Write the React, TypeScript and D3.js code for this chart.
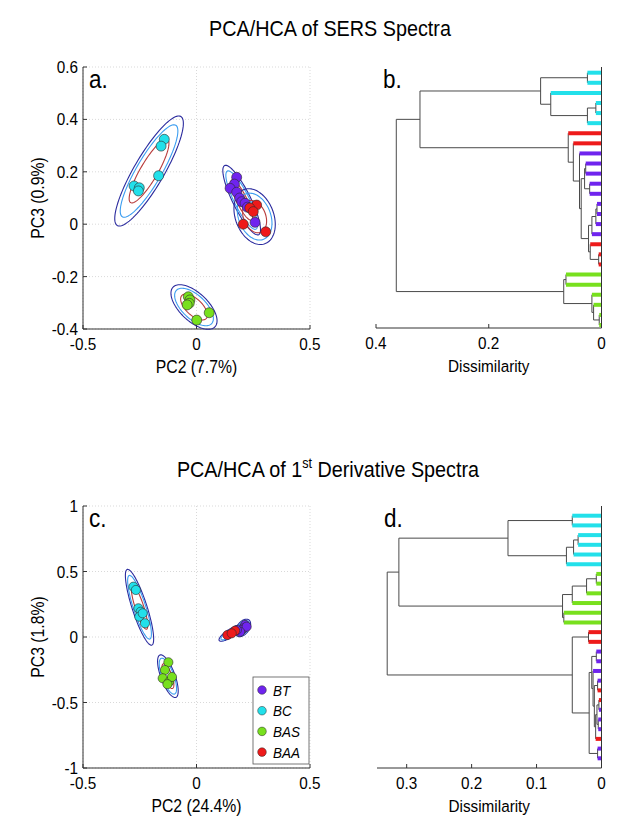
import React from 'react';
import * as d3 from 'd3';

const FONT = "'Liberation Sans', Arial, Helvetica, sans-serif";
const SX = 0.9;

const CLASS_NAMES = ['BT', 'BC', 'BAS', 'BAA'];
const CLASS_COLORS = ['#6f24ee', '#22e0ea', '#78e01e', '#ee1a1a'];
const ELLIPSE_SCALES = [1, 0.84, 0.58];
const ELLIPSE_COLORS = ['#2b2b9e', '#3b9df0', '#b83c3c'];

// ---------- Panel a: PCA of SERS spectra ----------
const sersBT = [[0.177, 0.179], [0.167, 0.153], [0.148, 0.137], [0.177, 0.122], [0.19, 0.1], [0.199, 0.086], [0.214, 0.08], [0.224, 0.065], [0.258, 0.007]];
const sersBC = [[-0.142, 0.324], [-0.156, 0.298], [-0.167, 0.185], [-0.275, 0.146], [-0.252, 0.139], [-0.256, 0.127]];
const sersBAS = [[-0.036, -0.277], [-0.029, -0.289], [-0.032, -0.302], [-0.041, -0.308], [0.056, -0.338], [0.001, -0.366]];
const sersBAA = [[0.265, 0.073], [0.235, 0.062], [0.25, 0.048], [0.206, 0.0], [0.305, -0.029]];
// ellipse: class, center, semi-axis u, semi-axis v (data units)
const sersEllipses = [
  { cls: 1, c: [-0.209, 0.203], u: [0.14, 0.208], v: [0.057, -0.029] },
  { cls: 0, c: [0.199, 0.092], u: [0.075, -0.132], v: [0.0356, 0.0152] },
  { cls: 3, c: [0.256, 0.029], u: [0.047, -0.103], v: [0.078, 0.027] },
  { cls: 2, c: [-0.011, -0.316], u: [0.092, -0.076], v: [0.043, 0.0385] },
];
const aXTicks = [-0.5, 0, 0.5];
const aYTicks = [-0.4, -0.2, 0, 0.2, 0.4, 0.6];

// ---------- Panel c: PCA of 1st derivative spectra ----------
const derBT = [[0.214, 0.092], [0.206, 0.066], [0.199, 0.053], [0.221, 0.079], [0.192, 0.04], [0.178, 0.053]];
const derBC = [[-0.278, 0.384], [-0.267, 0.359], [-0.256, 0.219], [-0.246, 0.193], [-0.252, 0.155], [-0.237, 0.181], [-0.227, 0.105]];
const derBAS = [[-0.124, -0.193], [-0.139, -0.252], [-0.149, -0.315], [-0.12, -0.341], [-0.108, -0.305], [-0.128, -0.36]];
const derBAA = [[0.136, 0.015], [0.17, 0.048], [0.155, 0.028]];
const derEllipses = [
  { cls: 1, c: [-0.251, 0.227], u: [0.054, -0.289], v: [0.031, 0.0176] },
  { cls: 2, c: [-0.126, -0.299], u: [0.035, -0.162], v: [0.029, 0.0187] },
  { cls: 3, c: [0.152, 0.031], u: [0.052, 0.058], v: [0.0095, -0.0256] },
  { cls: 0, c: [0.205, 0.069], u: [0.026, 0.061], v: [0.021, -0.0275] },
];
const cXTicks = [-0.5, 0, 0.5];
const cYTicks = [-1, -0.5, 0, 0.5, 1];

// ---------- Panel b: HCA of SERS spectra (leaf classes top to bottom) ----------
const sersLeafClasses = [1, 1, 1, 1, 1, 1, 3, 3, 0, 0, 0, 0, 0, 0, 0, 0, 0, 3, 3, 3, 2, 2, 2, 2, 2, 2];
// linkage rows: [childA, childB, height]; leaves 0..25, node k = 26 + row
const sersLinkage = [
  [3, 4, 0.01], [26, 5, 0.025], [0, 1, 0.025], [2, 27, 0.09], [28, 29, 0.108],
  [9, 10, 0.028], [11, 12, 0.021], [31, 32, 0.03],
  [13, 14, 0.008], [34, 15, 0.01], [35, 16, 0.017],
  [18, 19, 0.005], [17, 37, 0.02], [36, 38, 0.023], [33, 39, 0.036],
  [8, 40, 0.039], [7, 41, 0.05], [6, 42, 0.059], [30, 43, 0.322],
  [20, 21, 0.063], [24, 25, 0.004], [23, 46, 0.014], [22, 47, 0.017], [45, 48, 0.067],
  [44, 49, 0.364],
];
const bTicks = [0, 0.2, 0.4];

// ---------- Panel d: HCA of 1st derivative spectra ----------
const derLeafClasses = [1, 1, 1, 1, 1, 1, 2, 2, 2, 2, 2, 2, 3, 3, 0, 0, 0, 0, 3, 3, 0, 0, 0, 3, 0, 0];
const derLinkage = [
  [0, 1, 0.045], [2, 3, 0.036], [27, 4, 0.043], [28, 5, 0.054], [26, 29, 0.144],
  [6, 7, 0.008], [31, 8, 0.023], [32, 9, 0.045], [10, 11, 0.058], [33, 34, 0.06],
  [30, 35, 0.312],
  [12, 13, 0.02], [14, 15, 0.008], [17, 18, 0.006], [19, 20, 0.004], [21, 22, 0.005],
  [40, 41, 0.007], [42, 23, 0.009], [39, 43, 0.011], [16, 44, 0.013], [38, 45, 0.015],
  [24, 25, 0.006], [46, 47, 0.019], [37, 48, 0.045],
  [36, 49, 0.33],
];
const dTicks = [0, 0.1, 0.2, 0.3];

const fmt = (v: number) => String(v);

function Txt({ x, y, size, anchor = 'middle', rotate = 0, italic = false, children }: any) {
  return (
    <text
      transform={`translate(${x},${y}) rotate(${rotate}) scale(${SX},1)`}
      fontSize={size}
      fontFamily={FONT}
      textAnchor={anchor}
      fontStyle={italic ? 'italic' : 'normal'}
      fill="#000"
    >
      {children}
    </text>
  );
}

function ellipsePath(e: any, s: number, xs: any, ys: any) {
  const ts = d3.range(0, 101).map((i) => (i / 100) * Math.PI * 2);
  const line = d3
    .line<number>()
    .x((t) => xs(e.c[0] + s * (e.u[0] * Math.cos(t) + e.v[0] * Math.sin(t))))
    .y((t) => ys(e.c[1] + s * (e.u[1] * Math.cos(t) + e.v[1] * Math.sin(t))))
    .curve(d3.curveLinearClosed);
  return line(ts) || '';
}

function Scatter({ xs, ys, xTicks, yTicks, groups, ellipses, xLabel, yLabel, letter, legend, r }: any) {
  const [x0, x1] = xs.range();
  const [y0, y1] = ys.range(); // y0 bottom, y1 top
  const grid = '#cfcfcf';
  return (
    <g>
      {xTicks.map((t: number) => (
        <line key={'gx' + t} x1={xs(t)} x2={xs(t)} y1={y0} y2={y1} stroke={grid} strokeWidth={0.8} strokeDasharray="1,2" />
      ))}
      {yTicks.map((t: number) => (
        <line key={'gy' + t} x1={x0} x2={x1} y1={ys(t)} y2={ys(t)} stroke={grid} strokeWidth={0.8} strokeDasharray="1,2" />
      ))}
      <line x1={x0} x2={x0} y1={y0} y2={y1} stroke="#333" strokeWidth={1} />
      <line x1={x0} x2={x1} y1={y0} y2={y0} stroke="#333" strokeWidth={1} />
      {xTicks.map((t: number) => (
        <g key={'tx' + t}>
          <line x1={xs(t)} x2={xs(t)} y1={y0} y2={y0 - 4} stroke="#333" />
          <Txt x={xs(t)} y={y0 + 21} size={17}>{fmt(t)}</Txt>
        </g>
      ))}
      {yTicks.map((t: number) => (
        <g key={'ty' + t}>
          <line x1={x0} x2={x0 + 4} y1={ys(t)} y2={ys(t)} stroke="#333" />
          <Txt x={x0 - 5} y={ys(t) + 6} size={17} anchor="end">{fmt(t)}</Txt>
        </g>
      ))}
      {ellipses.map((e: any, i: number) =>
        ELLIPSE_SCALES.map((s, j) => (
          <path key={'e' + i + '-' + j} d={ellipsePath(e, s, xs, ys)} fill="none" stroke={ELLIPSE_COLORS[j]} strokeWidth={1.1} />
        ))
      )}
      {groups.map((pts: number[][], gi: number) =>
        pts.map((p, pi) => (
          <circle key={'p' + gi + '-' + pi} cx={xs(p[0])} cy={ys(p[1])} r={r} fill={CLASS_COLORS[gi]} stroke="#2a2a2a" strokeWidth={0.6} />
        ))
      )}
      <Txt x={x0 + 6} y={y1 + 21} size={25} anchor="start">{letter}</Txt>
      <Txt x={(x0 + x1) / 2} y={y0 + 44} size={17.5}>{xLabel}</Txt>
      <Txt x={44} y={(y0 + y1) / 2} size={17.5} rotate={-90}>{yLabel}</Txt>
      {legend && (
        <g>
          <rect x={legend.x} y={legend.y} width={legend.w} height={legend.h} fill="#fff" stroke="#555" strokeWidth={0.8} />
          {CLASS_NAMES.map((n, i) => (
            <g key={n}>
              <circle cx={legend.x + 9} cy={legend.y + 13 + i * 20.7} r={4.3} fill={CLASS_COLORS[i]} stroke="#2a2a2a" strokeWidth={0.5} />
              <Txt x={legend.x + 20} y={legend.y + 18.5 + i * 20.7} size={15} anchor="start" italic>{n}</Txt>
            </g>
          ))}
        </g>
      )}
    </g>
  );
}

function Dendro({ xs, yLeaf, leafCls, link, ticks, top, bottom, letter }: any) {
  const n = leafCls.length;
  const ys: number[] = [];
  const hs: number[] = [];
  const parentH: number[] = [];
  for (let i = 0; i < n; i++) {
    ys[i] = yLeaf(i);
    hs[i] = 0;
  }
  link.forEach(([a, b, h]: number[], k: number) => {
    ys[n + k] = (ys[a] + ys[b]) / 2;
    hs[n + k] = h;
    parentH[a] = h;
    parentH[b] = h;
  });
  const [xr, xl] = xs.range();
  const gray = '#4a4a4a';
  return (
    <g>
      {link.map(([a, b, h]: number[], k: number) => (
        <g key={'l' + k}>
          <line x1={xs(h)} x2={xs(h)} y1={ys[a]} y2={ys[b]} stroke={gray} strokeWidth={1} />
          {a >= n && <line x1={xs(hs[a])} x2={xs(h)} y1={ys[a]} y2={ys[a]} stroke={gray} strokeWidth={1} />}
          {b >= n && <line x1={xs(hs[b])} x2={xs(h)} y1={ys[b]} y2={ys[b]} stroke={gray} strokeWidth={1} />}
        </g>
      ))}
      {leafCls.map((c: number, i: number) => (
        <line key={'leaf' + i} x1={xs(0)} x2={xs(parentH[i])} y1={ys[i]} y2={ys[i]} stroke={CLASS_COLORS[c]} strokeWidth={4} />
      ))}
      <line x1={xr} x2={xr} y1={top} y2={bottom} stroke="#333" strokeWidth={1} />
      <line x1={xl} x2={xr} y1={bottom} y2={bottom} stroke="#333" strokeWidth={1} />
      {ticks.map((t: number) => (
        <g key={'t' + t}>
          <line x1={xs(t)} x2={xs(t)} y1={bottom} y2={bottom - 4} stroke="#333" />
          <Txt x={xs(t)} y={bottom + 21} size={17}>{fmt(t)}</Txt>
        </g>
      ))}
      <Txt x={xl + 7} y={top + 21} size={25} anchor="start">{letter}</Txt>
      <Txt x={(xl + xr) / 2} y={bottom + 44} size={17}>Dissimilarity</Txt>
    </g>
  );
}

export default function App() {
  const xA = d3.scaleLinear().domain([-0.5, 0.5]).range([83, 310]);
  const yA = d3.scaleLinear().domain([-0.4, 0.6]).range([329, 67]);
  const yC = d3.scaleLinear().domain([-1, 1]).range([768, 506]);
  const xB = d3.scaleLinear().domain([0, 0.4]).range([601.5, 376]);
  const yB = d3.scaleLinear().domain([0, 25]).range([72.7, 325]);
  const xD = d3.scaleLinear().domain([0, 0.3457]).range([601.5, 377]);
  const yD = d3.scaleLinear().domain([0, 27]).range([506, 768]);
  return (
    <svg width={624} height={835} style={{ position: 'absolute', left: 0, top: 0, background: '#fff' }}>
      <rect x={0} y={0} width={624} height={835} fill="#fff" />
      <Txt x={330} y={36} size={22}>PCA/HCA of SERS Spectra</Txt>
      <text transform={`translate(328,477) scale(${SX},1)`} fontSize={22} fontFamily={FONT} textAnchor="middle" fill="#000">
        PCA/HCA of 1<tspan dy={-9} fontSize={14}>st</tspan>
        <tspan dy={9}> Derivative Spectra</tspan>
      </text>
      <Scatter xs={xA} ys={yA} xTicks={aXTicks} yTicks={aYTicks} groups={[sersBT, sersBC, sersBAS, sersBAA]} ellipses={sersEllipses}
        xLabel="PC2 (7.7%)" yLabel="PC3 (0.9%)" letter="a." r={5} />
      <Dendro xs={xB} yLeaf={yB} leafCls={sersLeafClasses} link={sersLinkage} ticks={bTicks} top={67} bottom={328} letter="b." />
      <Scatter xs={xA} ys={yC} xTicks={cXTicks} yTicks={cYTicks} groups={[derBT, derBC, derBAS, derBAA]} ellipses={derEllipses}
        xLabel="PC2 (24.4%)" yLabel="PC3 (1.8%)" letter="c." r={4.6}
        legend={{ x: 253, y: 677, w: 56, h: 87 }} />
      <Dendro xs={xD} yLeaf={(i: number) => yD(i + 1)} leafCls={derLeafClasses} link={derLinkage} ticks={dTicks} top={506} bottom={768} letter="d." />
    </svg>
  );
}
